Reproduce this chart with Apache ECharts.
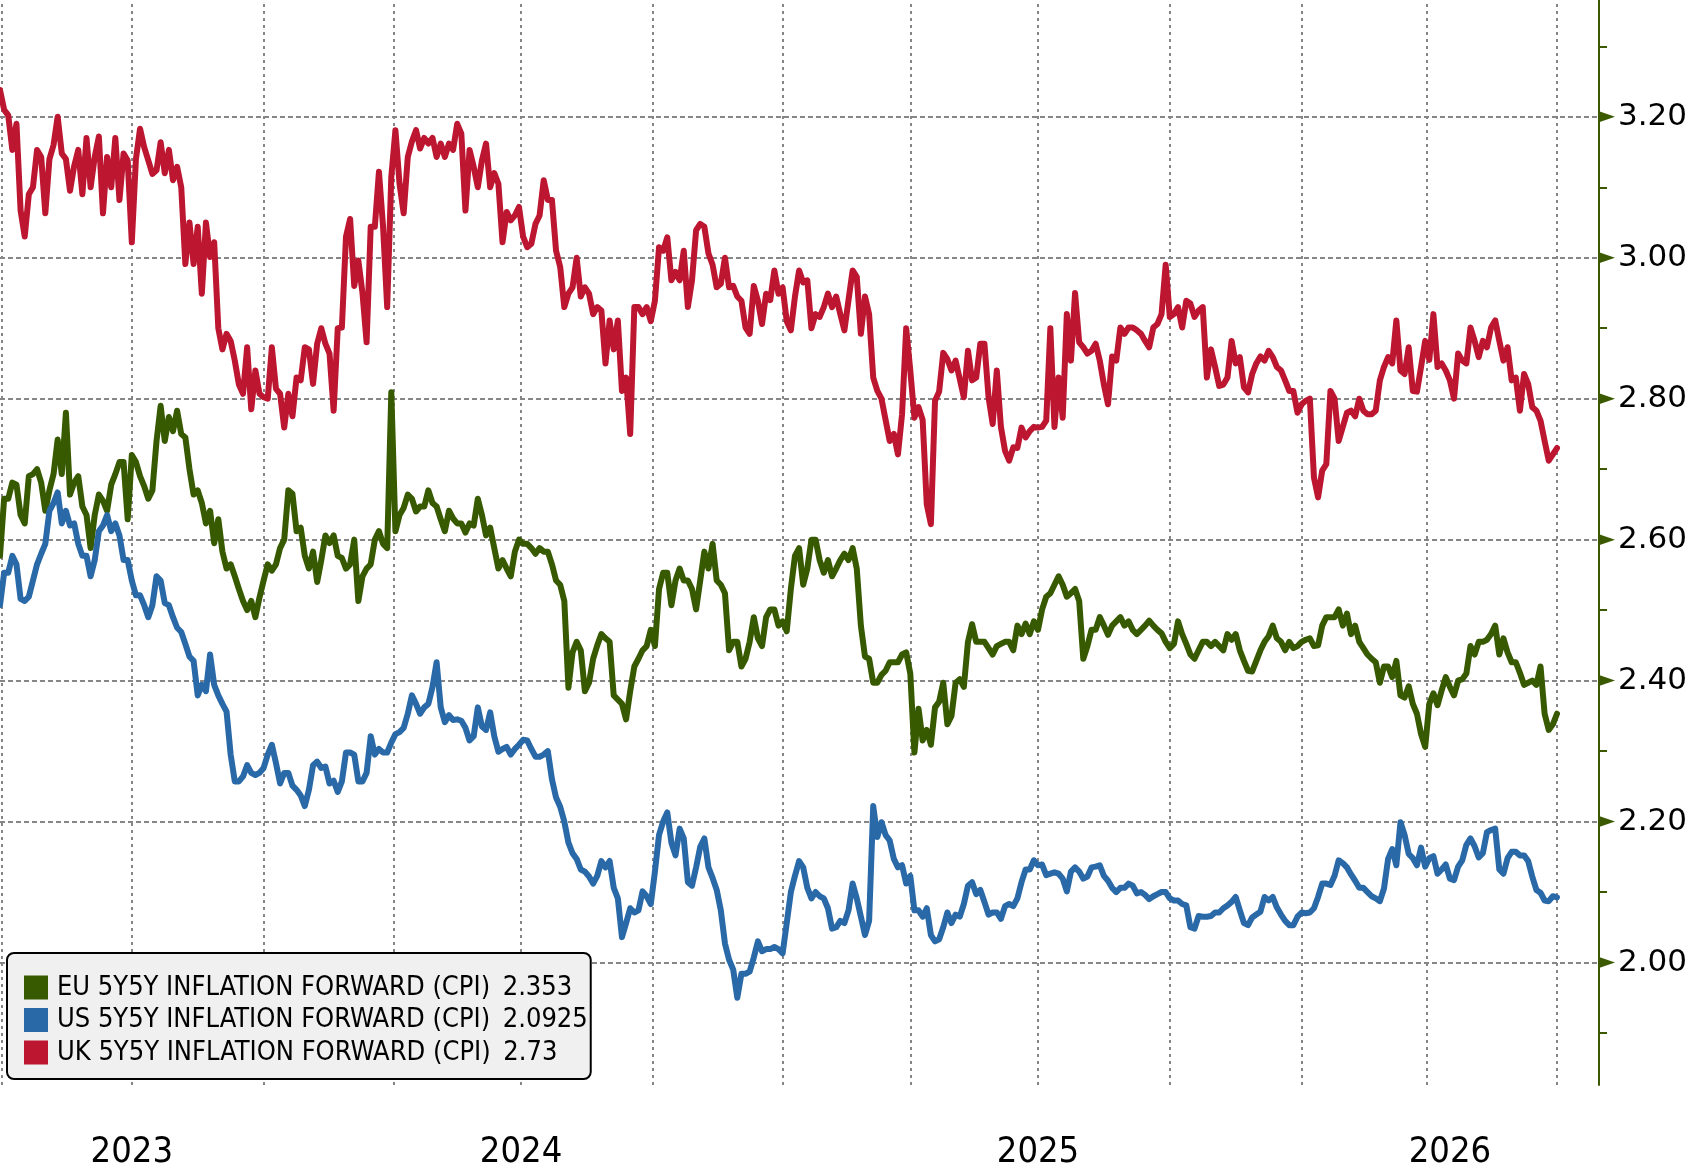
<!DOCTYPE html>
<html>
<head>
<meta charset="utf-8">
<script src="https://cdn.jsdelivr.net/npm/echarts@6/dist/echarts.min.js"></script>
<style>
html,body{margin:0;padding:0;background:#ffffff;}
#chart{width:1694px;height:1170px;}
</style>
</head>
<body>
<div id="chart"></div>
<script>
// ---------------- data ----------------
const seriesNames = [
  'EU 5Y5Y INFLATION FORWARD (CPI)',
  'US 5Y5Y INFLATION FORWARD (CPI)',
  'UK 5Y5Y INFLATION FORWARD (CPI)'
];
// one sample every 2 trading days
const sampleStepDays = 2;

const eu = [
  2.577, 2.658, 2.658, 2.681, 2.678, 2.635, 2.623, 2.69, 2.693, 2.70,
  2.681, 2.641, 2.67, 2.693, 2.742, 2.693, 2.78, 2.664, 2.681, 2.69,
  2.647, 2.635, 2.588, 2.635, 2.664, 2.655, 2.641, 2.678, 2.693, 2.71,
  2.71, 2.629, 2.72, 2.71, 2.69, 2.676, 2.658, 2.67, 2.74, 2.79,
  2.74, 2.774, 2.754, 2.783, 2.75, 2.745, 2.70, 2.664, 2.67, 2.652,
  2.623, 2.641, 2.595, 2.629, 2.583, 2.559, 2.565, 2.548, 2.53, 2.513,
  2.50, 2.513, 2.49, 2.518, 2.542, 2.565, 2.556, 2.565, 2.588, 2.60,
  2.67, 2.665, 2.612, 2.617, 2.577, 2.559, 2.583, 2.54, 2.571, 2.606,
  2.595, 2.606, 2.577, 2.574, 2.559, 2.565, 2.60, 2.513, 2.548, 2.559,
  2.565, 2.60, 2.612, 2.594, 2.588, 2.809, 2.612, 2.635, 2.645, 2.664,
  2.658, 2.64, 2.647, 2.647, 2.67, 2.652, 2.647, 2.629, 2.612, 2.641,
  2.63, 2.623, 2.623, 2.61, 2.623, 2.62, 2.658, 2.635, 2.606, 2.617,
  2.588, 2.559, 2.571, 2.559, 2.548, 2.583, 2.60, 2.594, 2.594, 2.588,
  2.58, 2.588, 2.583, 2.583, 2.565, 2.542, 2.536, 2.513, 2.39, 2.44,
  2.455, 2.443, 2.385, 2.397, 2.431, 2.45, 2.466, 2.46, 2.455, 2.379,
  2.373, 2.367, 2.345, 2.385, 2.42, 2.431, 2.443, 2.449, 2.472, 2.449,
  2.53, 2.553, 2.553, 2.507, 2.542, 2.559, 2.542, 2.542, 2.53, 2.501,
  2.542, 2.583, 2.559, 2.594, 2.542, 2.536, 2.524, 2.443, 2.455, 2.455,
  2.42, 2.431, 2.455, 2.49, 2.46, 2.449, 2.49, 2.501, 2.501, 2.478,
  2.484, 2.47, 2.53, 2.577, 2.588, 2.536, 2.559, 2.60, 2.60, 2.571,
  2.553, 2.571, 2.548, 2.559, 2.571, 2.58, 2.571, 2.588, 2.559, 2.478,
  2.434, 2.431, 2.397, 2.397, 2.408, 2.414, 2.426, 2.426, 2.426, 2.437,
  2.44, 2.41, 2.298, 2.36, 2.315, 2.33, 2.309, 2.362, 2.37, 2.397,
  2.338, 2.35, 2.397, 2.402, 2.391, 2.455, 2.48, 2.455, 2.455, 2.455,
  2.446, 2.437, 2.449, 2.452, 2.455, 2.455, 2.443, 2.478, 2.466, 2.481,
  2.466, 2.484, 2.472, 2.501, 2.519, 2.524, 2.536, 2.548, 2.536, 2.519,
  2.524, 2.53, 2.513, 2.431, 2.449, 2.472, 2.472, 2.49, 2.478, 2.465,
  2.478, 2.484, 2.49, 2.478, 2.484, 2.472, 2.466, 2.472, 2.478, 2.485,
  2.478, 2.472, 2.467, 2.455, 2.446, 2.452, 2.484, 2.466, 2.452, 2.437,
  2.431, 2.443, 2.455, 2.455, 2.449, 2.455, 2.449, 2.443, 2.466, 2.458,
  2.466, 2.443, 2.428, 2.414, 2.413, 2.428, 2.443, 2.455, 2.463, 2.478,
  2.46, 2.455, 2.443, 2.455, 2.446, 2.449, 2.455, 2.458, 2.46, 2.449,
  2.45, 2.478, 2.49, 2.49, 2.49, 2.501, 2.478, 2.495, 2.466, 2.478,
  2.455, 2.446, 2.437, 2.431, 2.426, 2.397, 2.42, 2.42, 2.405, 2.428,
  2.379, 2.376, 2.392, 2.367, 2.353, 2.324, 2.306, 2.367, 2.382, 2.365,
  2.386, 2.405, 2.391, 2.379, 2.40, 2.402, 2.41, 2.449, 2.437, 2.455,
  2.455, 2.458, 2.466, 2.478, 2.437, 2.46, 2.44, 2.426, 2.426, 2.411,
  2.394, 2.397, 2.40, 2.394, 2.42, 2.353, 2.33, 2.338, 2.353
];

const us = [
  2.507, 2.553, 2.553, 2.577, 2.565, 2.516, 2.513, 2.519, 2.542, 2.565,
  2.58, 2.594, 2.641, 2.652, 2.667, 2.623, 2.641, 2.62, 2.623, 2.594,
  2.577, 2.577, 2.548, 2.571, 2.612, 2.62, 2.635, 2.612, 2.623, 2.606,
  2.571, 2.571, 2.542, 2.521, 2.521, 2.507, 2.49, 2.507, 2.548, 2.542,
  2.51, 2.507, 2.49, 2.475, 2.469, 2.452, 2.434, 2.428, 2.379, 2.394,
  2.385, 2.437, 2.394, 2.379, 2.367, 2.356, 2.295, 2.257, 2.257, 2.264,
  2.28, 2.269, 2.266, 2.269, 2.276, 2.295, 2.309, 2.283, 2.254, 2.269,
  2.269, 2.251, 2.245, 2.237, 2.222, 2.245, 2.28, 2.285, 2.276, 2.278,
  2.254, 2.258, 2.242, 2.257, 2.298, 2.298, 2.295, 2.257, 2.257, 2.269,
  2.321, 2.295, 2.303, 2.298, 2.298, 2.312, 2.324, 2.327, 2.333, 2.353,
  2.379, 2.367, 2.353, 2.362, 2.367, 2.391, 2.426, 2.362, 2.341, 2.351,
  2.344, 2.345, 2.343, 2.333, 2.315, 2.321, 2.362, 2.335, 2.33, 2.355,
  2.321, 2.299, 2.303, 2.306, 2.295, 2.303, 2.309, 2.316, 2.315, 2.303,
  2.292, 2.292, 2.295, 2.30, 2.26, 2.234, 2.221, 2.20, 2.17, 2.155,
  2.147, 2.132, 2.129, 2.122, 2.112, 2.123, 2.144, 2.135, 2.144, 2.106,
  2.091, 2.036, 2.056, 2.077, 2.071, 2.074, 2.101, 2.094, 2.083, 2.129,
  2.181, 2.20, 2.213, 2.17, 2.152, 2.19, 2.176, 2.114, 2.109, 2.135,
  2.164, 2.176, 2.135, 2.12, 2.103, 2.074, 2.027, 2.004, 1.99, 1.95,
  1.984, 1.984, 1.987, 2.007, 2.03, 2.016, 2.019, 2.019, 2.022, 2.019,
  2.013, 2.056, 2.10, 2.123, 2.144, 2.135, 2.106, 2.091, 2.10, 2.094,
  2.091, 2.077, 2.048, 2.05, 2.059, 2.056, 2.074, 2.112, 2.091, 2.065,
  2.039, 2.059, 2.222, 2.178, 2.199, 2.181, 2.173, 2.147, 2.135, 2.138,
  2.112, 2.123, 2.074, 2.074, 2.065, 2.077, 2.039, 2.03, 2.033, 2.05,
  2.071, 2.056, 2.068, 2.065, 2.083, 2.109, 2.114, 2.097, 2.103, 2.086,
  2.068, 2.071, 2.071, 2.062, 2.08, 2.083, 2.08, 2.091, 2.114, 2.132,
  2.132, 2.145, 2.138, 2.139, 2.124, 2.126, 2.128, 2.126, 2.119, 2.101,
  2.129, 2.135, 2.129, 2.119, 2.122, 2.135, 2.136, 2.138, 2.123, 2.116,
  2.106, 2.10, 2.106, 2.106, 2.112, 2.109, 2.098, 2.10, 2.096, 2.09,
  2.094, 2.097, 2.10, 2.10, 2.091, 2.088, 2.088, 2.083, 2.081, 2.05,
  2.048, 2.066, 2.065, 2.065, 2.066, 2.071, 2.071, 2.077, 2.081, 2.086,
  2.093, 2.074, 2.056, 2.053, 2.064, 2.068, 2.072, 2.093, 2.088, 2.093,
  2.078, 2.068, 2.059, 2.053, 2.053, 2.065, 2.071, 2.07, 2.071, 2.077,
  2.093, 2.112, 2.112, 2.11, 2.123, 2.145, 2.141, 2.135, 2.125, 2.116,
  2.106, 2.106, 2.10, 2.094, 2.091, 2.087, 2.105, 2.147, 2.161, 2.138,
  2.199, 2.181, 2.154, 2.148, 2.138, 2.163, 2.136, 2.148, 2.151, 2.126,
  2.132, 2.139, 2.119, 2.117, 2.136, 2.145, 2.167, 2.176, 2.165, 2.149,
  2.155, 2.185, 2.188, 2.19, 2.132, 2.126, 2.148, 2.157, 2.157, 2.152,
  2.152, 2.144, 2.122, 2.103, 2.099, 2.088, 2.087, 2.094, 2.0925
];

const uk = [
  3.238, 3.21, 3.202, 3.153, 3.19, 3.067, 3.03, 3.09, 3.10, 3.153,
  3.143, 3.063, 3.14, 3.16, 3.20, 3.148, 3.14, 3.095, 3.13, 3.153,
  3.09, 3.17, 3.10, 3.143, 3.172, 3.063, 3.143, 3.10, 3.17, 3.082,
  3.148, 3.138, 3.022, 3.14, 3.183, 3.157, 3.138, 3.119, 3.124, 3.164,
  3.12, 3.153, 3.11, 3.129, 3.10, 2.991, 3.05, 2.991, 3.044, 2.949,
  3.05, 3.001, 3.022, 2.90, 2.87, 2.892, 2.882, 2.854, 2.82, 2.807,
  2.873, 2.785, 2.84, 2.807, 2.802, 2.80, 2.873, 2.814, 2.807, 2.759,
  2.807, 2.775, 2.83, 2.826, 2.873, 2.87, 2.821, 2.878, 2.90, 2.878,
  2.864, 2.783, 2.90, 2.901, 3.03, 3.055, 2.96, 2.996, 2.95, 2.88,
  3.044, 3.044, 3.122, 3.044, 2.93, 3.115, 3.181, 3.105, 3.063, 3.143,
  3.165, 3.181, 3.155, 3.17, 3.162, 3.17, 3.143, 3.162, 3.143, 3.162,
  3.153, 3.19, 3.176, 3.067, 3.153, 3.129, 3.10, 3.138, 3.162, 3.10,
  3.12, 3.105, 3.022, 3.065, 3.053, 3.06, 3.072, 3.03, 3.015, 3.02,
  3.048, 3.06, 3.11, 3.082, 3.082, 3.01, 2.987, 2.93, 2.949, 2.958,
  3.0, 2.945, 2.958, 2.949, 2.92, 2.93, 2.925, 2.85, 2.911, 2.87,
  2.911, 2.811, 2.83, 2.75, 2.93, 2.93, 2.92, 2.93, 2.91, 2.939,
  3.015, 3.01, 3.029, 2.968, 2.98, 2.968, 3.01, 2.93, 2.968, 3.039,
  3.048, 3.044, 3.006, 2.99, 2.958, 2.963, 3.0, 2.958, 2.96, 2.945,
  2.939, 2.901, 2.892, 2.96, 2.939, 2.906, 2.949, 2.94, 2.982, 2.949,
  2.958, 2.91, 2.897, 2.945, 2.982, 2.965, 2.968, 2.90, 2.92, 2.916,
  2.93, 2.949, 2.93, 2.945, 2.92, 2.897, 2.94, 2.982, 2.973, 2.892,
  2.945, 2.92, 2.83, 2.811, 2.80, 2.77, 2.74, 2.75, 2.721, 2.778,
  2.90, 2.84, 2.773, 2.788, 2.77, 2.65, 2.622, 2.797, 2.81, 2.865,
  2.856, 2.84, 2.854, 2.828, 2.802, 2.868, 2.826, 2.83, 2.878, 2.878,
  2.802, 2.764, 2.84, 2.76, 2.726, 2.712, 2.731, 2.73, 2.759, 2.745,
  2.754, 2.76, 2.759, 2.76, 2.769, 2.90, 2.76, 2.83, 2.773, 2.92,
  2.854, 2.95, 2.88, 2.873, 2.864, 2.868, 2.878, 2.854, 2.82, 2.792,
  2.86, 2.854, 2.901, 2.892, 2.901, 2.901, 2.897, 2.892, 2.882, 2.873,
  2.901, 2.906, 2.92, 2.99, 2.916, 2.92, 2.93, 2.901, 2.939, 2.935,
  2.916, 2.925, 2.93, 2.83, 2.87, 2.845, 2.818, 2.82, 2.83, 2.882,
  2.85, 2.859, 2.816, 2.809, 2.835, 2.85, 2.86, 2.854, 2.868, 2.859,
  2.845, 2.84, 2.826, 2.811, 2.811, 2.78, 2.792, 2.797, 2.80, 2.688,
  2.66, 2.698, 2.707, 2.811, 2.80, 2.74, 2.76, 2.78, 2.783, 2.775,
  2.80, 2.783, 2.778, 2.778, 2.783, 2.826, 2.845, 2.859, 2.85, 2.911,
  2.84, 2.835, 2.873, 2.811, 2.81, 2.845, 2.882, 2.855, 2.92, 2.845,
  2.85, 2.84, 2.826, 2.80, 2.864, 2.854, 2.85, 2.901, 2.882, 2.859,
  2.882, 2.873, 2.901, 2.911, 2.882, 2.854, 2.873, 2.826, 2.83, 2.783,
  2.835, 2.821, 2.788, 2.783, 2.769, 2.74, 2.712, 2.721, 2.73
];

// quarter boundaries (trading-day index) used for the vertical grid
const quarterDays = [1, 64, 128, 191, 253, 317, 380, 442, 504, 568, 632, 693, 756];
// year tick labels
const yearLabels = ['2023', '2024', '2025', '2026'];
const yearLabelDays = [64, 253, 504, 704];
// value axis ticks
const yMajorTicks = [2.0, 2.2, 2.4, 2.6, 2.8, 3.0, 3.2];
const yMinorTicks = [1.9, 2.1, 2.3, 2.5, 2.7, 2.9, 3.1, 3.3];
const yRange = [1.8262, 3.3657];
const xRange = [0, 776.4];

// ---------------- chart ----------------
const AXIS_GREEN = '#3B5A00';
const GRID_GRAY = '#868686';
const colors = ['#375A00', '#2A69A8', '#BC1631'];
const valueSets = [eu, us, uk];
const LEGEND_FONT = "'DejaVu Sans Condensed', sans-serif";

const toPairs = arr => arr.map((v, i) => [i * sampleStepDays, v]);
const lastValueText = name => {
  const arr = valueSets[seriesNames.indexOf(name)];
  return String(arr[arr.length - 1]);
};

const gridLines = [];
quarterDays.forEach(d => gridLines.push({
  xAxis: d,
  lineStyle: { color: GRID_GRAY, width: 2, type: [3, 4] }
}));
yMajorTicks.forEach(v => gridLines.push({
  yAxis: v,
  lineStyle: { color: GRID_GRAY, width: 2, type: [5, 3] }
}));

const chart = echarts.init(document.getElementById('chart'), null, { renderer: 'canvas' });

const option = {
  animation: false,
  backgroundColor: '#ffffff',
  grid: { left: 0, right: 95, top: 0, bottom: 85, containLabel: false, outerBoundsMode: 'none' },
  xAxis: {
    type: 'value',
    min: xRange[0],
    max: xRange[1],
    axisLine: { show: false },
    axisTick: { show: false },
    splitLine: { show: false },
    axisLabel: {
      customValues: yearLabelDays,
      formatter: v => {
        const k = yearLabelDays.indexOf(v);
        return k >= 0 ? yearLabels[k] : '';
      },
      margin: 50,
      fontSize: 36,
      fontFamily: "'DejaVu Sans Condensed', sans-serif",
      color: '#000000'
    }
  },
  yAxis: {
    type: 'value',
    position: 'right',
    min: yRange[0],
    max: yRange[1],
    axisLine: { show: true, onZero: false, lineStyle: { color: AXIS_GREEN, width: 2 } },
    axisTick: {
      show: true,
      customValues: yMinorTicks,
      length: 8,
      lineStyle: { color: AXIS_GREEN, width: 2 }
    },
    axisLabel: {
      customValues: yMajorTicks,
      formatter: v => Number(v).toFixed(2),
      margin: 19,
      fontSize: 31,
      fontFamily: "'DejaVu Sans', sans-serif",
      color: '#000000'
    },
    splitLine: { show: false }
  },
  legend: {
    data: seriesNames,
    orient: 'vertical',
    left: 7,
    top: 953,
    padding: [21, 3, 13, 17],
    itemWidth: 24,
    itemHeight: 24,
    itemGap: 5.5,
    icon: 'rect',
    selectedMode: false,
    backgroundColor: '#f0f0f0',
    borderColor: '#000000',
    borderWidth: 2,
    borderRadius: 7,
    itemStyle: { borderWidth: 0 },
    textStyle: {
      fontFamily: LEGEND_FONT,
      fontSize: 27,
      lineHeight: 26,
      color: '#000000',
      padding: [0, 0, 0, 4]
    },
    formatter: name => name + ' \u2009' + lastValueText(name)
  },
  series: [
    {
      name: '_frame',
      type: 'line',
      data: [],
      silent: true,
      z: 1,
      markLine: {
        silent: true,
        z: 1,
        symbol: ['none', 'none'],
        label: { show: false },
        emphasis: { disabled: true },
        animation: false,
        data: gridLines
      },
      markPoint: {
        silent: true,
        z: 6,
        symbol: 'triangle',
        symbolSize: [11, 16],
        symbolRotate: -90,
        symbolOffset: [8, 0],
        itemStyle: { color: AXIS_GREEN },
        label: { show: false },
        animation: false,
        data: yMajorTicks.map(v => ({ coord: [xRange[1], v] }))
      }
    }
  ].concat(valueSets.map((arr, k) => ({
    name: seriesNames[k],
    type: 'line',
    data: toPairs(arr),
    showSymbol: false,
    symbol: 'none',
    z: 2 + k,
    color: colors[k],
    itemStyle: { color: colors[k] },
    lineStyle: { color: colors[k], width: 6, join: 'round', cap: 'round' },
    emphasis: { disabled: true }
  })))
};

chart.setOption(option);
</script>
</body>
</html>
